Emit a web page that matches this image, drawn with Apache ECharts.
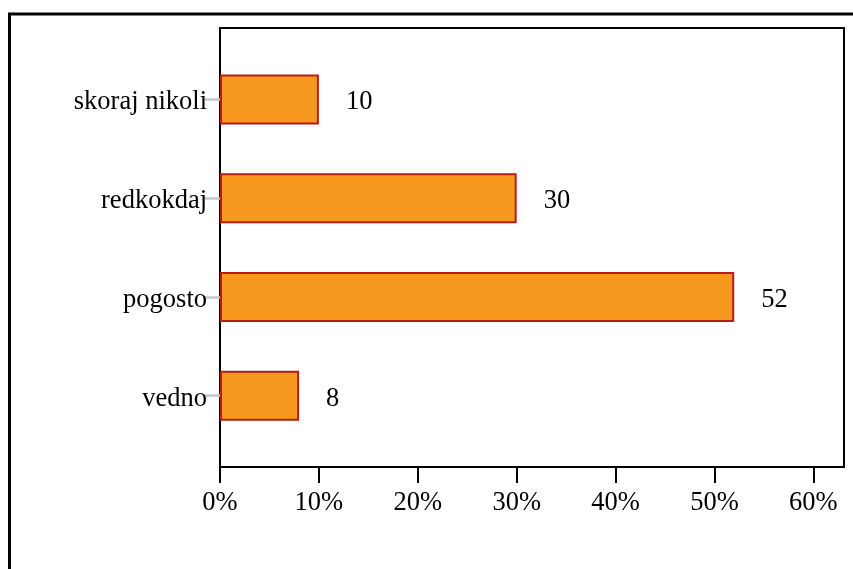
<!DOCTYPE html>
<html>
<head>
<meta charset="utf-8">
<script src="https://cdn.jsdelivr.net/npm/echarts@6/dist/echarts.min.js"></script>
<style>
  html, body { margin: 0; padding: 0; background: #fff; }
  #chart { width: 853px; height: 569px; }
</style>
</head>
<body>
<div id="chart"></div>
<script>
// Answer categories, bottom to top
const categories = ['vedno', 'pogosto', 'redkokdaj', 'skoraj nikoli'];
// Share of respondents per answer (%)
const values = [8, 52, 30, 10];
// Percentage ticks on the horizontal axis
const xTicks = [0, 10, 20, 30, 40, 50, 60];

const FONT = 'Liberation Serif';
const FONT_SIZE = 26.5;
const X_MAX = 63.1;

const chart = echarts.init(document.getElementById('chart'), null, { renderer: 'canvas' });

chart.setOption({
  animation: false,
  backgroundColor: '#ffffff',
  graphic: [{
    type: 'rect',
    shape: { x: 9.5, y: 14, width: 900, height: 600 },
    style: { fill: 'none', stroke: '#000', lineWidth: 3 },
    silent: true
  }],
  grid: [
    // framed plot area carrying the percentage axis
    { left: 220, top: 28, width: 624, height: 439, show: true,
      borderColor: '#000', borderWidth: 2, backgroundColor: 'transparent' },
    // inner band area for the bars
    { left: 220, top: 50, width: 624, height: 395 }
  ],
  xAxis: [
    {
      gridIndex: 0, type: 'value', min: 0, max: X_MAX,
      axisLine: { show: true, lineStyle: { color: '#000', width: 2 } },
      axisTick: { show: true, length: 16, lineStyle: { color: '#000', width: 2 }, customValues: xTicks },
      axisLabel: { customValues: xTicks, formatter: '{value}%', color: '#000',
        fontFamily: FONT, fontSize: FONT_SIZE, margin: 23 },
      splitLine: { show: false }
    },
    {
      gridIndex: 1, type: 'value', min: 0, max: X_MAX, show: false
    }
  ],
  yAxis: [
    { gridIndex: 0, type: 'value', show: false },
    {
      gridIndex: 1, type: 'category', data: categories,
      axisLine: { show: false },
      axisTick: { show: true, alignWithLabel: true, length: 15,
        lineStyle: { color: '#c8c8c8', width: 2.5 } },
      // a short line box hung from the tick sets the text a little below it
      axisLabel: { color: '#000', fontFamily: FONT, fontSize: FONT_SIZE, margin: 13,
        verticalAlign: 'top', lineHeight: 6 }
    }
  ],
  series: [{
    type: 'bar',
    xAxisIndex: 1,
    yAxisIndex: 1,
    data: values,
    barWidth: 50,
    itemStyle: { color: '#f8991f', borderColor: '#b51d1d', borderWidth: 2 },
    label: {
      show: true, position: 'right', distance: 27, offset: [0, 3],
      color: '#000', fontFamily: FONT, fontSize: FONT_SIZE
    }
  }]
});
</script>
</body>
</html>
